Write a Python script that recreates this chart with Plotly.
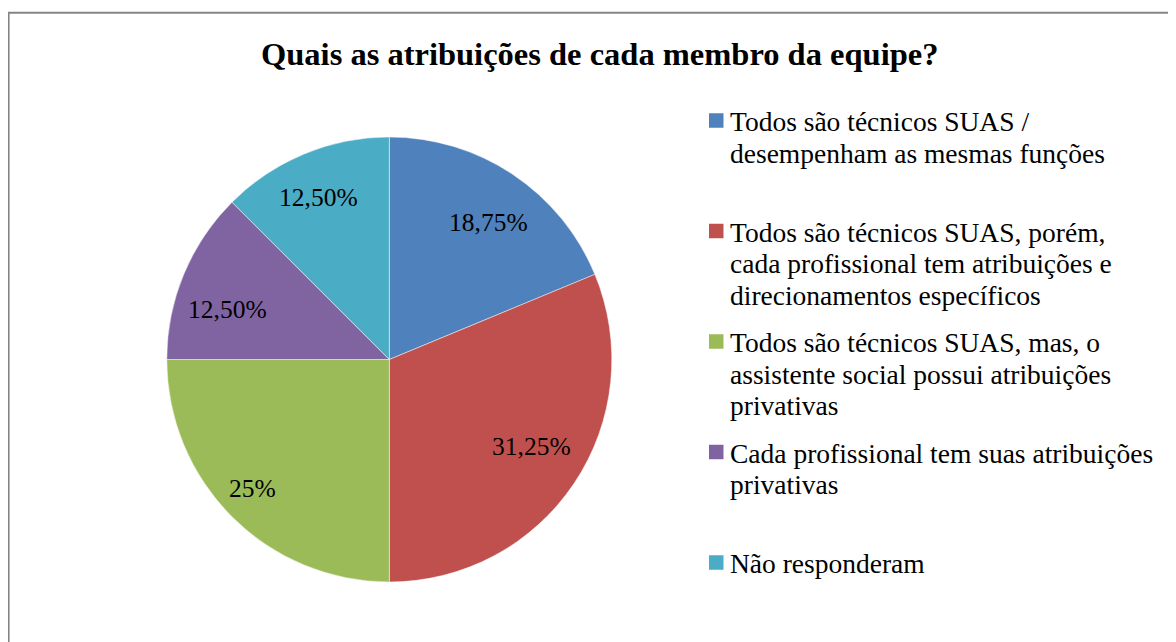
import math
import plotly.graph_objects as go

# ---- data ----
categories = [
    "Todos são técnicos SUAS / desempenham as mesmas funções",
    "Todos são técnicos SUAS, porém, cada profissional tem atribuições e direcionamentos específicos",
    "Todos são técnicos SUAS, mas, o assistente social possui atribuições privativas",
    "Cada profissional tem suas atribuições privativas",
    "Não responderam",
]
legend_lines = [
    ["Todos são técnicos SUAS /", "desempenham as mesmas funções"],
    ["Todos são técnicos SUAS, porém,", "cada profissional tem atribuições e", "direcionamentos específicos"],
    ["Todos são técnicos SUAS, mas, o", "assistente social possui atribuições", "privativas"],
    ["Cada profissional tem suas atribuições", "privativas"],
    ["Não responderam"],
]
values = [18.75, 31.25, 25.0, 12.5, 12.5]
value_labels = ["18,75%", "31,25%", "25%", "12,50%", "12,50%"]
title_text = "Quais as atribuições de cada membro da equipe?"

# ---- style ----
colors = ["#4F81BD", "#C0504D", "#9BBB59", "#8064A2", "#4BACC6"]
label_radius_frac = [0.758, 0.751, 0.847, 0.758, 0.792]
label_angle_nudge = [2.25, -2.15, 1.6, -5.6, -1.3]  # degrees off the slice mid-angle
W, H = 1176, 642
OFF = 8  # page body margin in the browser
CX, CY, R = 389.3, 359.5, 222.5  # pixel centre / radius of the pie (screen coords)
FONT = "Liberation Serif"


def px_to_paper(x, y):
    return (x - OFF) / W, 1 - (y - OFF) / H


dx0, dy1 = px_to_paper(CX - R, CY - R)
dx1, dy0 = px_to_paper(CX + R, CY + R)

fig = go.Figure()
fig.add_trace(go.Pie(
    labels=categories,
    values=values,
    marker=dict(colors=colors, line=dict(color="rgba(255,255,255,0.6)", width=0.8)),
    sort=False,
    direction="clockwise",
    rotation=0,
    textinfo="none",
    hoverinfo="label+percent",
    showlegend=False,
    domain=dict(x=[dx0, dx1], y=[dy0, dy1]),
))

annotations = []
shapes = []

# data labels, placed along each slice's mid-angle
total = sum(values)
cum = 0.0
for v, txt, f, nud in zip(values, value_labels, label_radius_frac, label_angle_nudge):
    mid = (cum + v / 2) / total * 2 * math.pi + math.radians(nud)
    cum += v
    lx = CX + f * R * math.sin(mid)
    ly = CY - f * R * math.cos(mid) - 0.5
    px, py = px_to_paper(lx, ly)
    annotations.append(dict(
        x=px, y=py, xref="paper", yref="paper", text=txt, showarrow=False,
        xanchor="center", yanchor="middle",
        font=dict(family=FONT, size=25.5, color="#000000"),
    ))

# legend drawn manually
LEG_X_SQ, SQ = 709, 14.5
LEG_X_TXT = 728
LEG_Y0, LEG_STEP, LINE_STEP = 120.5, 110.5, 31.7
for i, (lines, c) in enumerate(zip(legend_lines, colors)):
    y_first = LEG_Y0 + i * LEG_STEP
    x0p, y0p = px_to_paper(LEG_X_SQ, y_first + SQ / 2)
    x1p, y1p = px_to_paper(LEG_X_SQ + SQ, y_first - SQ / 2)
    shapes.append(dict(type="rect", xref="paper", yref="paper",
                       x0=x0p, x1=x1p, y0=y0p, y1=y1p,
                       fillcolor=c, line=dict(width=0)))
    for j, ln in enumerate(lines):
        tx, ty = px_to_paper(LEG_X_TXT, y_first + j * LINE_STEP + 1)
        annotations.append(dict(
            x=tx, y=ty, xref="paper", yref="paper", text=ln, showarrow=False,
            xanchor="left", yanchor="middle",
            font=dict(family=FONT, size=27.5, color="#000000"),
        ))

# title
tx, ty = px_to_paper(599.5, 54)
annotations.append(dict(
    x=tx, y=ty, xref="paper", yref="paper", text="<b>" + title_text + "</b>",
    showarrow=False, xanchor="center", yanchor="middle",
    font=dict(family=FONT, size=32.5, color="#000000"),
))

# chart-area border (extends past right/bottom edge)
bx0, by1 = px_to_paper(OFF + 0.6, 12.7)
shapes.append(dict(type="rect", xref="paper", yref="paper",
                   x0=bx0, x1=1.05, y0=-0.05, y1=by1,
                   line=dict(color="#858585", width=2), fillcolor="rgba(0,0,0,0)",
                   layer="above"))

fig.update_layout(
    width=W, height=H, autosize=False,
    margin=dict(l=0, r=0, t=0, b=0),
    paper_bgcolor="#FFFFFF", plot_bgcolor="#FFFFFF",
    annotations=annotations, shapes=shapes,
    showlegend=False,
)

fig.write_html("out.html")
